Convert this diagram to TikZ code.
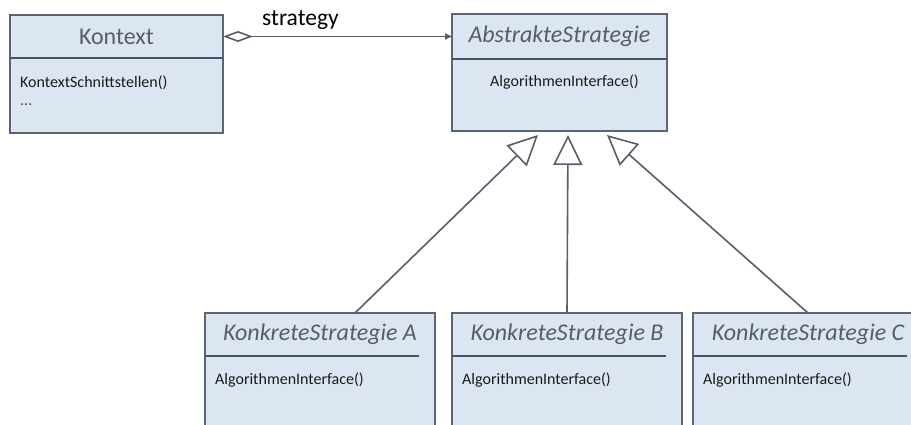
\documentclass[tikz,border=0pt]{standalone}
\usepackage{fontspec}
\setmainfont{Carlito}
\usetikzlibrary{arrows.meta,calc}
\definecolor{boxfill}{HTML}{DCE6F2}
\definecolor{boxline}{HTML}{5B6573}
\definecolor{sepline}{HTML}{4A5464}
\definecolor{titletext}{HTML}{555D6B}
\definecolor{linkcol}{HTML}{565E6C}
\begin{document}
\begin{tikzpicture}[x=1pt,y=-1pt,
  classbox/.style={draw=boxline, fill=boxfill, line width=1.3pt, inner sep=0pt, outer sep=0pt, anchor=north west},
  titlecell/.style={inner sep=0pt, outer sep=0pt, anchor=north west, text=titletext, font=\fontsize{24}{28}\selectfont},
  abstractcell/.style={titlecell, font=\fontsize{24}{28}\selectfont\itshape},
  method/.style={anchor=west, inner sep=0pt, font=\fontsize{16}{19}\selectfont, text=black!90},
  separator/.style={draw=sepline, line width=2.2pt},
  link/.style={draw=linkcol, line width=1.6pt},
  inherit/.style={link, -{Triangle[open, length=30pt, width=29pt, fill=white]}},
]
\useasboundingbox (0,0) rectangle (911,425);
\clip (0,0) rectangle (911,425);

% Kontext class
\node[classbox, minimum width=213pt, minimum height=118pt] (K) at (10,15) {};
\node[titlecell, minimum width=213pt, minimum height=43pt] (Kt) at (K.north west) {Kontext};
\draw[separator] (Kt.south west) -- (Kt.south east);
\node[method] (Km) at ($(K.north west)+(10,68)$) {KontextSchnittstellen()};
\node[method, text=black!70] (Kd) at ($(K.north west)+(10,90)$) {...};

% abstract strategy
\node[classbox, minimum width=215pt, minimum height=117pt] (S) at (452,14) {};
\node[abstractcell, minimum width=215pt, minimum height=45pt] (St) at (S.north west) {AbstrakteStrategie};
\draw[separator] (St.south west) -- (St.south east);
\node[method] (Sm) at ($(S.north west)+(38,68)$) {AlgorithmenInterface()};

% concrete strategies
\foreach \n/\x/\l in {A/205/A, B/452/B, C/693/C}{
  \node[classbox, minimum width=230pt, minimum height=140pt] (\n) at (\x,313) {};
  \node[abstractcell, minimum width=230pt, minimum height=43pt] (\n t) at (\n.north west) {KonkreteStrategie \l};
  \draw[separator] (\n t.south west) -- ($(\n t.south east)+(-16,0)$);
  \node[method] (\n m) at ($(\n.north west)+(10,67)$) {AlgorithmenInterface()};
}

% aggregation
\draw[link, {Diamond[open, length=30pt, width=11pt, fill=white]}-{Triangle[length=7pt, width=6pt]}] (Kt.east) -- (St.west);
\node[anchor=base west, inner sep=0pt, font=\fontsize{23.5}{28}\selectfont] (lbl) at (262,26) {strategy};

% generalisation
\coordinate (tA) at ($(S.south west)+(86,4)$);
\coordinate (tB) at ($(S.south west)+(116,4)$);
\coordinate (tC) at ($(S.south west)+(155,4)$);
\draw[inherit] ($(A.north west)+(150,0)$) -- (tA);
\draw[inherit] (B.north) -- (tB);
\draw[inherit] (C.north) -- (tC);
\end{tikzpicture}
\end{document}
